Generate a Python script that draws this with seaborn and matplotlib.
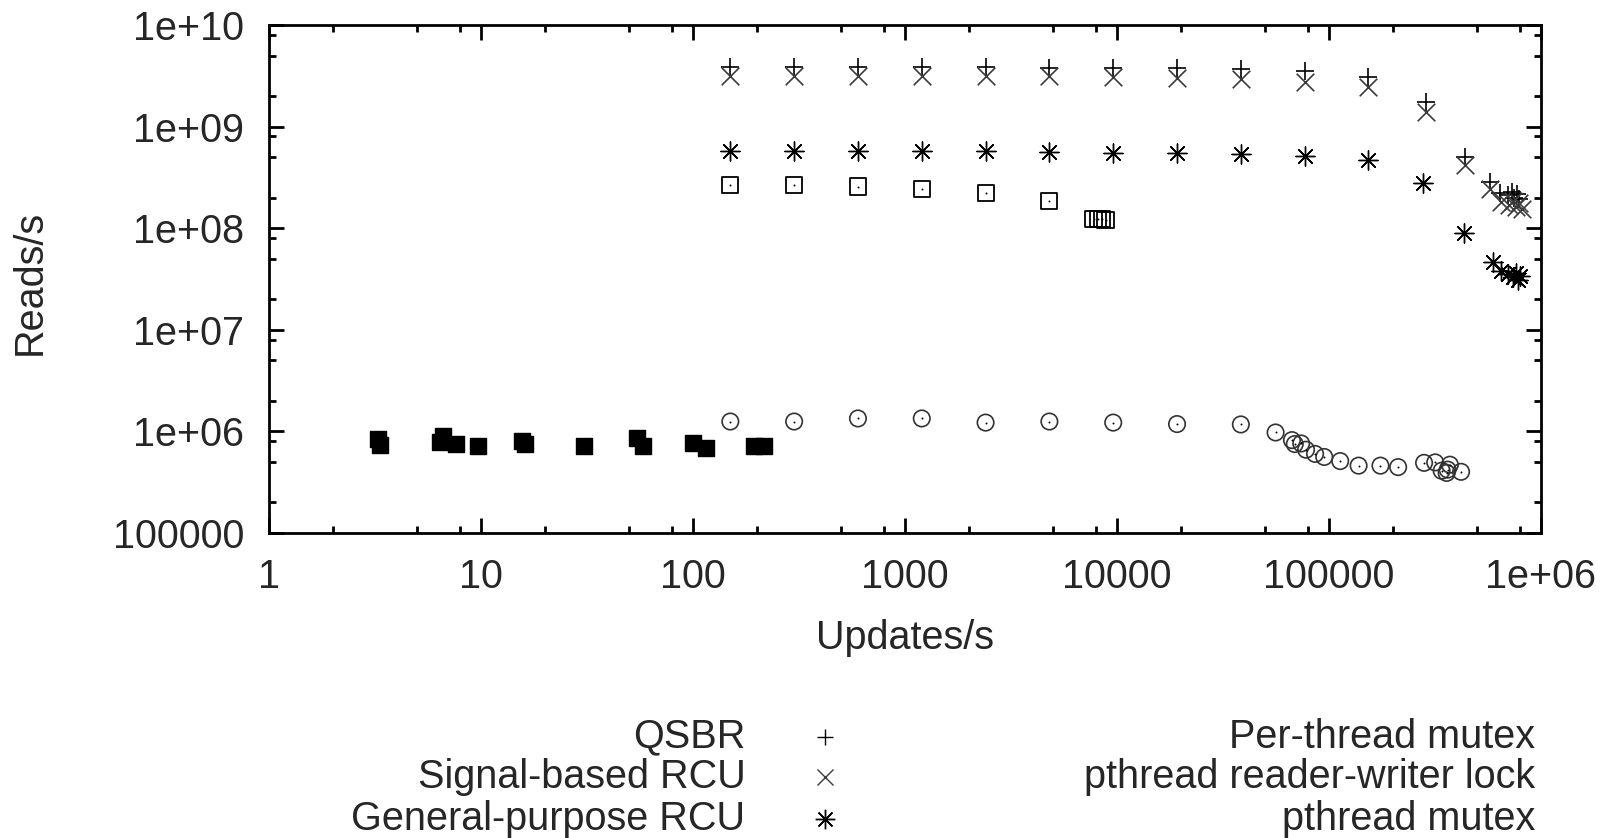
import matplotlib
import matplotlib.pyplot as plt
from matplotlib.lines import Line2D
from matplotlib.ticker import FixedLocator, FixedFormatter, LogLocator, NullFormatter
import seaborn as sns
plt.switch_backend('Agg')

sns.set_style("ticks")
matplotlib.rcParams['font.family'] = ["Liberation Sans", "DejaVu Sans"]
matplotlib.rcParams['font.size'] = 28.5

# series values (updates/s, reads/s)
qsbr_x = [150, 300, 600, 1200, 2400, 4800, 9600, 19200, 38400, 76800, 153600,
          287000, 440000, 575000, 640000, 700000, 730000, 750000, 770000, 790000]
qsbr_y = [3.85e9, 3.85e9, 3.85e9, 3.85e9, 3.85e9, 3.8e9, 3.8e9, 3.75e9, 3.7e9, 3.5e9, 3.1e9,
          1.73e9, 5.0e8, 2.85e8, 2.2e8, 2.1e8, 2.25e8, 2.0e8, 2.15e8, 1.95e8]

sig_x = [150, 300, 600, 1200, 2400, 4800, 9600, 19200, 38400, 76800, 153600,
         287000, 440000, 575000, 645000, 710000, 740000, 765000, 790000, 815000]
sig_y = [3.15e9, 3.15e9, 3.15e9, 3.15e9, 3.15e9, 3.15e9, 3.1e9, 3.0e9, 2.95e9, 2.75e9, 2.45e9,
         1.4e9, 4.2e8, 2.45e8, 1.82e8, 1.7e8, 1.85e8, 1.6e8, 1.75e8, 1.55e8]

gp_x = [150, 300, 600, 1200, 2400, 4800, 9600, 19200, 38400, 76800, 153600,
        277000, 433000, 592000, 650000, 700000, 735000, 760000, 780000, 800000]
gp_y = [5.75e8, 5.75e8, 5.7e8, 5.7e8, 5.7e8, 5.65e8, 5.5e8, 5.45e8, 5.4e8, 5.15e8, 4.7e8,
        2.8e8, 9.0e7, 4.6e7, 3.8e7, 3.5e7, 3.3e7, 3.6e7, 3.1e7, 3.4e7]

ptm_x = [150, 300, 600, 1200, 2400, 4800, 7750, 8100, 8500, 8830]
ptm_y = [2.66e8, 2.66e8, 2.57e8, 2.45e8, 2.23e8, 1.86e8, 1.24e8, 1.22e8, 1.23e8, 1.21e8]

rw_x = [3.26, 3.34, 6.4, 6.6, 7.6, 9.65, 15.6, 16.1, 30.7, 54.3, 57.9, 100, 115, 194, 217]
rw_y = [8.35e5, 7.35e5, 7.9e5, 9.0e5, 7.5e5, 7.2e5, 8.1e5, 7.5e5, 7.1e5, 8.55e5, 7.2e5,
        7.74e5, 6.8e5, 7.2e5, 7.2e5]

mtx_x = [150, 300, 600, 1200, 2400, 4800, 9600, 19200, 38400, 56000, 66900, 69000, 74000,
         78000, 86000, 95000, 113000, 138000, 175000, 212000, 281000, 317000, 340000,
         359000, 363000, 372000, 420000]
mtx_y = [1.25e6, 1.25e6, 1.34e6, 1.34e6, 1.22e6, 1.25e6, 1.22e6, 1.18e6, 1.17e6, 9.75e5,
         8.2e5, 7.5e5, 7.6e5, 6.6e5, 6.0e5, 5.6e5, 5.1e5, 4.6e5, 4.6e5, 4.45e5, 4.9e5,
         4.95e5, 4.1e5, 3.9e5, 4.2e5, 4.7e5, 4.0e5]

names = ["QSBR", "Signal-based RCU", "General-purpose RCU",
         "Per-thread mutex", "pthread reader-writer lock", "pthread mutex"]

x_ticks = [1, 10, 100, 1000, 10000, 100000, 1e6]
x_labels = ["1", "10", "100", "1000", "10000", "100000", "1e+06"]
y_ticks = [1e5, 1e6, 1e7, 1e8, 1e9, 1e10]
y_labels = ["100000", "1e+06", "1e+07", "1e+08", "1e+09", "1e+10"]

fig = plt.figure(figsize=(16.08, 8.38), dpi=100)
ax = fig.add_axes([0.1673, 0.364, 0.791, 0.6062])

ast = (8, 2, 0)  # gnuplot style asterisk
sns.scatterplot(x=qsbr_x, y=qsbr_y, ax=ax, marker="+", s=160, color="black", linewidth=1.2)
sns.scatterplot(x=sig_x, y=sig_y, ax=ax, marker="x", s=160, color="#3a3a3a", linewidth=1.2)
sns.scatterplot(x=gp_x, y=gp_y, ax=ax, marker=ast, s=190, color="black", linewidth=1.0)
sns.scatterplot(x=ptm_x, y=ptm_y, ax=ax, marker="s", s=135, facecolors="none",
                edgecolor="black", linewidth=1.3)
sns.scatterplot(x=ptm_x, y=ptm_y, ax=ax, marker="o", s=2, color="black", linewidth=0)
sns.scatterplot(x=rw_x, y=rw_y, ax=ax, marker="s", s=130, color="black",
                edgecolor="black", linewidth=1)
sns.scatterplot(x=mtx_x, y=mtx_y, ax=ax, marker="o", s=140, facecolors="none",
                edgecolor="#333333", linewidth=1.2)
sns.scatterplot(x=mtx_x, y=mtx_y, ax=ax, marker="o", s=2, color="black", linewidth=0)

ax.set_xscale("log")
ax.set_yscale("log")
ax.set_xlim(1, 1e6)
ax.set_ylim(1e5, 1e10)

ax.xaxis.set_major_locator(FixedLocator(x_ticks))
ax.xaxis.set_major_formatter(FixedFormatter(x_labels))
ax.yaxis.set_major_locator(FixedLocator(y_ticks))
ax.yaxis.set_major_formatter(FixedFormatter(y_labels))
ax.xaxis.set_minor_locator(LogLocator(base=10, subs=(2, 5, 8), numticks=20))
ax.yaxis.set_minor_locator(LogLocator(base=10, subs=(2, 5, 8), numticks=20))
ax.xaxis.set_minor_formatter(NullFormatter())
ax.yaxis.set_minor_formatter(NullFormatter())

ax.tick_params(which="both", direction="in", top=True, right=True, width=2, color="black")
ax.tick_params(which="major", length=10.5, pad=18)
ax.tick_params(which="minor", length=5.3)
for sp in ax.spines.values():
    sp.set_linewidth(2)
    sp.set_color("black")

ax.set_xlabel("Updates/s")
ax.set_ylabel("Reads/s")
ax.xaxis.set_label_coords(0.5, -0.169)
ax.yaxis.set_label_coords(-0.173, 0.494)

# gnuplot-like key under the plot: text right-aligned, sample to its right
key_markers = [dict(marker="+", markersize=11), dict(marker="x", markersize=11, color="#3a3a3a"),
               dict(marker=ast, markersize=14)]
text_right = [0.4636, 0.9547]
rows = [0.1079, 0.0601, 0.0100]
for i, name in enumerate(names):
    col, row = divmod(i, 3)
    fig.text(text_right[col], rows[row], name, ha="right", va="baseline")
    if col == 0:
        kw = dict(color="black", markeredgewidth=1.0, linestyle="none")
        kw.update(key_markers[row])
        fig.add_artist(Line2D([825.5 / 1608], [rows[row] + 0.0125], transform=fig.transFigure, **kw))

plt.savefig("out.png", dpi=100)
